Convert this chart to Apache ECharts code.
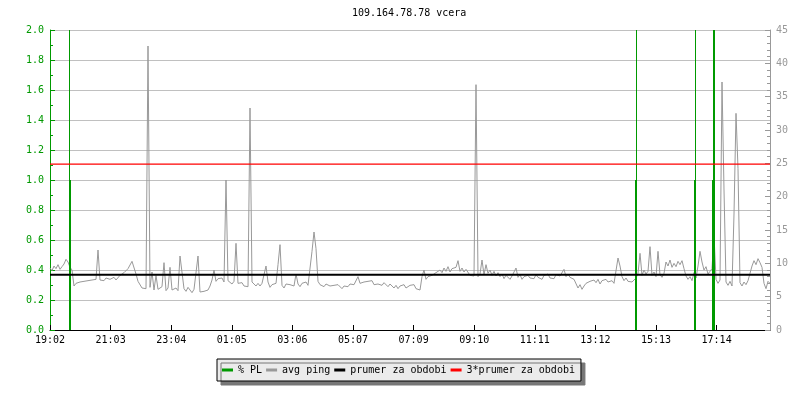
<!DOCTYPE html>
<html>
<head>
<meta charset="utf-8">
<title>109.164.78.78 vcera</title>
<script src="https://cdn.jsdelivr.net/npm/echarts@6/dist/echarts.min.js"></script>
<style>
html, body { margin: 0; padding: 0; background: #fff; }
#chart { width: 800px; height: 400px; }
</style>
</head>
<body>
<div id="chart"></div>
<script>
// time labels along the bottom, one every ~121 minutes from 19:02
const tickLabels = ['19:02', '21:03', '23:04', '01:05', '03:06', '05:07',
  '07:09', '09:10', '11:11', '13:12', '15:13', '17:14']
const tickStep = 121.2
const dayMinutes = 1440
const pingStep = 4 // minutes between ping samples

// avg ping in ms, one value every 4 minutes
const avgPing = [
  9.3, 8.9, 9.6, 9.2, 9.8, 9.1, 9.5, 9.9, 10.6, 10.2, 9.4, 9.0, 6.6, 7.0, 6.8,
  7.2, 6.9, 7.3, 7.0, 7.4, 7.1, 7.5, 7.2, 7.6, 12.0, 7.5, 7.7, 7.4, 7.8, 7.6,
  7.6, 7.4, 7.9, 7.5, 7.8, 8.2, 7.9, 8.6, 8.3, 9.2, 9.5, 10.3, 10.0, 8.4, 7.3,
  7.0, 6.3, 6.6, 6.2, 42.6, 6.4, 8.7, 6.0, 8.2, 6.1, 5.8, 6.5, 10.1, 5.9, 6.3,
  9.4, 6.0, 5.7, 6.3, 5.9, 11.1, 11.0, 6.2, 5.8, 6.4, 6.0, 5.6, 6.1, 5.8, 11.1,
  5.7, 5.5, 5.8, 5.6, 6.0, 6.6, 7.5, 9.0, 7.3, 7.7, 7.4, 7.8, 7.2, 22.5, 7.4,
  7.1, 6.9, 7.3, 13.0, 7.0, 6.7, 7.1, 6.6, 6.9, 6.5, 33.3, 7.2, 6.9, 6.6, 7.0,
  6.6, 7.0, 6.8, 9.6, 7.2, 6.4, 6.8, 6.5, 7.0, 9.8, 12.8, 6.7, 6.3, 6.9, 6.6,
  6.8, 7.1, 6.6, 8.4, 6.9, 6.5, 7.0, 6.8, 7.2, 6.7, 7.0, 11.8, 14.7, 12.2, 7.3,
  6.8, 7.1, 6.5, 6.9, 7.2, 6.6, 6.3, 6.7, 6.4, 6.8, 6.5, 6.2, 6.6, 6.9, 6.5,
  6.9, 7.2, 6.8, 7.1, 8.0, 7.0, 6.7, 7.2, 6.9, 7.3, 7.0, 7.4, 6.8, 7.1, 6.9,
  7.0, 6.7, 7.1, 6.8, 6.5, 6.9, 6.6, 6.3, 6.7, 6.2, 6.6, 6.4, 6.8, 6.3, 6.5,
  6.7, 6.4, 6.8, 6.2, 6.5, 6.0, 8.0, 9.0, 7.6, 8.0, 7.7, 8.2, 7.9, 8.6, 8.9,
  9.0, 8.6, 9.3, 8.8, 9.5, 8.7, 9.2, 8.9, 9.4, 10.4, 8.8, 9.3, 8.7, 9.1, 9.4,
  8.2, 7.9, 8.1, 36.8, 8.0, 8.4, 10.5, 8.3, 9.8, 8.5, 9.0, 8.2, 8.8, 8.1, 8.6,
  8.0, 8.4, 7.7, 8.2, 7.9, 7.6, 8.1, 7.8, 9.3, 7.9, 8.3, 7.6, 8.0, 7.7, 8.2,
  7.8, 8.1, 7.7, 8.3, 7.9, 8.0, 7.6, 8.2, 7.9, 8.4, 7.8, 8.1, 7.7, 8.3, 8.0,
  8.1, 7.8, 9.1, 8.0, 8.4, 7.9, 8.2, 7.6, 7.9, 6.3, 6.8, 6.1, 6.6, 7.0, 6.8,
  7.3, 7.0, 7.5, 7.1, 7.6, 6.9, 7.4, 7.1, 7.6, 7.2, 6.9, 7.4, 7.0, 7.3, 10.8,
  9.6, 8.0, 7.4, 7.8, 7.3, 7.6, 7.2, 7.5, 7.8, 8.5, 11.5, 8.2, 9.0, 8.4, 8.8,
  12.5, 8.2, 8.7, 8.0, 11.8, 8.3, 7.9, 8.5, 10.2, 9.6, 10.5, 9.4, 10.0, 9.5, 10.3,
  9.8, 10.4, 9.2, 8.1, 7.6, 8.0, 7.4, 8.6, 7.8, 9.6, 11.8, 10.2, 9.0, 9.5, 8.4,
  8.8, 9.2, 14.2, 7.6, 7.0, 7.5, 37.2, 21.0, 7.2, 6.7, 7.3, 6.6, 17.4, 32.5, 24.2,
  7.1, 6.6, 7.2, 6.8, 7.4, 8.5, 9.6, 10.4, 9.8, 10.7, 10.1, 9.4, 7.0, 6.2, 7.3,
  7.0
]

// packet loss: [minute, %]
const packetLoss = [
  [39, 3.0], [41, 1.0],
  [1171, 1.0], [1173, 3.0],
  [1289, 1.0], [1291, 3.0],
  [1325, 1.0], [1327, 3.0], [1329, 3.0]
]

const meanPing = 8.29
const tripleMeanPing = 24.87

const mono = 'DejaVu Sans Mono'
const green = '#009900'
const grey = '#999999'

const chart = echarts.init(document.getElementById('chart'))

const pingData = avgPing.map((v, i) => [i * pingStep, v])

chart.setOption({
  animation: false,
  backgroundColor: '#fff',
  title: {
    text: '109.164.78.78 vcera',
    left: 352,
    top: 8,
    padding: 0,
    textStyle: { fontFamily: mono, fontSize: 10, fontWeight: 'normal', color: '#000' }
  },
  grid: { left: 50, right: 30, top: 30, bottom: 70 },
  legend: {
    left: 217,
    top: 359,
    data: ['% PL', 'avg ping', 'prumer za obdobi', '3*prumer za obdobi'],
    icon: 'rect',
    itemWidth: 11,
    itemHeight: 3,
    itemGap: 4,
    padding: [6, 6, 6, 5],
    backgroundColor: '#ebebeb',
    borderColor: '#000',
    borderWidth: 1,
    borderRadius: 0,
    shadowColor: '#777',
    shadowBlur: 0,
    shadowOffsetX: 4,
    shadowOffsetY: 4,
    textStyle: { fontFamily: mono, fontSize: 10, color: '#000' }
  },
  xAxis: {
    type: 'value',
    min: 0,
    max: dayMinutes,
    interval: tickStep,
    axisLine: { lineStyle: { color: '#000' } },
    axisTick: { inside: true, length: 5, lineStyle: { color: '#000' } },
    axisLabel: {
      margin: 5,
      color: '#000',
      fontFamily: mono,
      fontSize: 10,
      showMaxLabel: false,
      formatter: (v) => tickLabels[Math.round(v / tickStep)] || ''
    },
    splitLine: { show: false }
  },
  yAxis: [
    {
      type: 'value',
      position: 'left',
      min: 0,
      max: 2,
      interval: 0.2,
      axisLine: { show: true, lineStyle: { color: green } },
      axisTick: { show: true, inside: true, length: 5, lineStyle: { color: green } },
      minorTick: { show: true, splitNumber: 2, length: 3, lineStyle: { color: green } },
      axisLabel: {
        margin: 6,
        color: green,
        fontFamily: mono,
        fontSize: 10,
        formatter: (v) => v.toFixed(1)
      },
      splitLine: { lineStyle: { color: '#c0c0c0' } }
    },
    {
      type: 'value',
      position: 'right',
      min: 0,
      max: 45,
      interval: 5,
      axisLine: { show: true, lineStyle: { color: grey } },
      axisTick: { show: true, inside: true, length: 5, lineStyle: { color: grey } },
      minorTick: { show: true, splitNumber: 5, length: 3, lineStyle: { color: grey } },
      axisLabel: { margin: 6, color: grey, fontFamily: mono, fontSize: 10 },
      splitLine: { show: false }
    }
  ],
  series: [
    {
      name: 'avg ping',
      type: 'line',
      yAxisIndex: 1,
      data: pingData,
      showSymbol: false,
      color: grey,
      lineStyle: { color: grey, width: 1 },
      z: 2
    },
    {
      name: '% PL',
      type: 'bar',
      yAxisIndex: 0,
      barWidth: 1,
      data: packetLoss,
      color: green,
      itemStyle: { color: green },
      z: 3
    },
    {
      name: 'prumer za obdobi',
      type: 'line',
      yAxisIndex: 1,
      data: [[0, meanPing], [dayMinutes, meanPing]],
      showSymbol: false,
      color: '#000',
      lineStyle: { color: '#000', width: 2 },
      z: 4
    },
    {
      name: '3*prumer za obdobi',
      type: 'line',
      yAxisIndex: 1,
      data: [[0, tripleMeanPing], [dayMinutes, tripleMeanPing]],
      showSymbol: false,
      color: '#ff0000',
      lineStyle: { color: '#ff0000', width: 1.3 },
      z: 4
    }
  ]
})
</script>
</body>
</html>
